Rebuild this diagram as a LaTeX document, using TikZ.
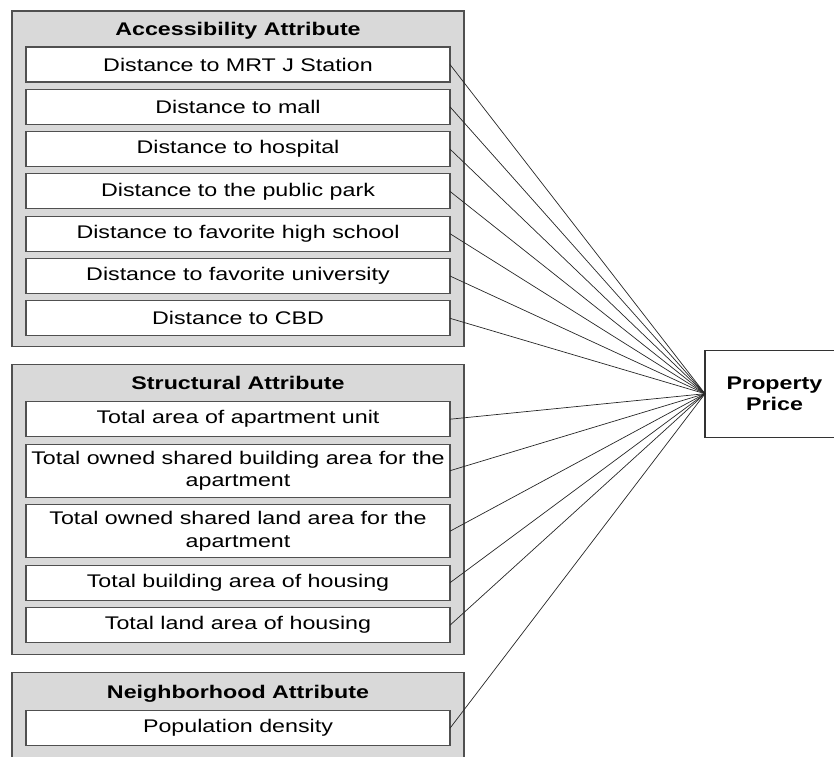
\documentclass[tikz,border=0pt]{standalone}
\usepackage{fontspec}
\setmainfont{Liberation Sans}[FakeStretch=1.27]
\usetikzlibrary{positioning,fit,backgrounds}

\definecolor{panelgray}{HTML}{D9D9D9}
\definecolor{edgegray}{HTML}{505050}

\begin{document}
\begin{tikzpicture}[
    x=1pt, y=1pt,
    font=\fontsize{18.3}{22.7}\selectfont,
    item/.style={
        draw=edgegray,
        line width=1.1pt,
        outer sep=0pt,
        fill=white,
        minimum width=424pt,
        minimum height=35pt,
        inner xsep=2pt,
        align=center
    },
    tallitem/.style={item, minimum height=53pt},
    heading/.style={
        font=\fontsize{18.3}{22.7}\selectfont\bfseries,
        inner sep=0pt,
        outer sep=0pt,
        text height=13pt,
        text depth=4pt
    },
    panel/.style={draw=edgegray, line width=1.1pt, fill=panelgray,
        inner xsep=14pt, inner ysep=11pt},
    target/.style={
        draw=black!80,
        line width=1.1pt,
        outer sep=0pt,
        fill=white,
        minimum width=139pt,
        minimum height=87pt,
        align=center,
        font=\fontsize{18.3}{21}\selectfont\bfseries
    },
    link/.style={line width=0.7pt, black!85}
]
\useasboundingbox (0,0) rectangle (834,-756);

% ------------------------------------------------------------
% Accessibility
% ------------------------------------------------------------
\node[item, anchor=north] (accA) at (238,-47) {Distance to MRT J Station};
\node[item, below=7.3pt of accA] (accB) {Distance to mall};
\node[item, below=7.3pt of accB] (accC) {Distance to hospital};
\node[item, below=7.3pt of accC] (accD) {Distance to the public park};
\node[item, below=7.3pt of accD] (accE) {Distance to favorite high school};
\node[item, below=7.3pt of accE] (accF) {Distance to favorite university};
\node[item, below=7.3pt of accF] (accG) {Distance to CBD};
\node[heading, above=8pt of accA] (acctitle) {Accessibility Attribute};

% ------------------------------------------------------------
% Structural
% ------------------------------------------------------------
\node[item, anchor=north] (strA) at (238,-401.7) {Total area of apartment unit};
\node[tallitem, below=7.5pt of strA] (strB) {Total owned shared building area for the\\apartment};
\node[tallitem, below=7.5pt of strB] (strC) {Total owned shared land area for the\\apartment};
\node[item, below=7.5pt of strC] (strD) {Total building area of housing};
\node[item, below=7.5pt of strD] (strE) {Total land area of housing};
\node[heading, above=8.5pt of strA] (strtitle) {Structural Attribute};

% ------------------------------------------------------------
% Neighborhood
% ------------------------------------------------------------
\node[item, anchor=north] (nbA) at (238,-710.7) {Population density};
\node[heading, above=8.5pt of nbA] (nbtitle) {Neighborhood Attribute};

% grey panels behind each group
\begin{scope}[on background layer]
    \node[panel, fit=(acctitle)(accA)(accG)] (accpanel) {};
    \node[panel, fit=(strtitle)(strA)(strE), inner ysep=12pt] (strpanel) {};
    \node[panel, fit=(nbtitle)(nbA), inner ysep=12.5pt] (nbpanel) {};
\end{scope}

% ------------------------------------------------------------
% Target and links
% ------------------------------------------------------------
\node[target] (price) at (774.5,-393.7) {Property\\Price};

\foreach \n in {accA,accB,accC,accD,accE,accF,accG,strA,strB,strC,strD,strE,nbA}
    \draw[link] (\n.east) -- (price.west);

\end{tikzpicture}
\end{document}
